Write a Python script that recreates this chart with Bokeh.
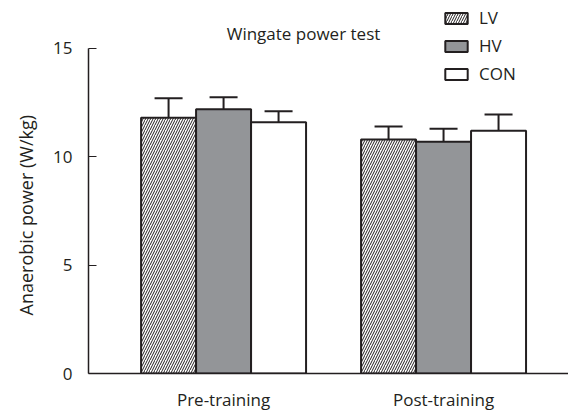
from bokeh.plotting import figure
from bokeh.models import Range1d, FixedTicker, Whisker, TeeHead, ColumnDataSource, Legend, LegendItem, Label, Title
from bokeh.embed import file_html
from bokeh.resources import INLINE

# ---- data ----
phases = ["Pre-training", "Post-training"]
groups = ["LV", "HV", "CON"]
lv_mean = [11.8, 10.8]
hv_mean = [12.2, 10.7]
con_mean = [11.6, 11.2]
lv_sd = [0.9, 0.6]
hv_sd = [0.55, 0.6]
con_sd = [0.5, 0.75]
y_ticks = [0, 5, 10, 15]

FONT = "Open Sans"
INK = "#231f20"

p = figure(width=568, height=413, output_backend="svg", toolbar_location=None,
           x_range=Range1d(0.386, 2.568), y_range=Range1d(0, 17.215),
           min_border_left=88, min_border_right=0, min_border_top=0, min_border_bottom=40)
p.outline_line_color = None
p.xgrid.visible = False
p.ygrid.visible = False
p.background_fill_color = "white"
p.border_fill_color = "white"

width = 0.25
offsets = [-width, 0.0, width]
series = [
    (lv_mean, lv_sd, dict(fill_color="white", hatch_pattern="/", hatch_color=INK, hatch_scale=5, hatch_weight=1)),
    (hv_mean, hv_sd, dict(fill_color="#939598")),
    (con_mean, con_sd, dict(fill_color="white")),
]
renderers = []
for (means, sds, style), off in zip(series, offsets):
    xs = [i + 1 + off for i in range(len(phases))]
    src = ColumnDataSource(dict(x=xs, top=means, up=[m + s for m, s in zip(means, sds)]))
    w = Whisker(base="x", lower="top", upper="up", source=src, dimension="height",
                line_color=INK, line_width=2, lower_head=None,
                upper_head=TeeHead(size=28, line_color=INK, line_width=2))
    p.add_layout(w)
    r = p.vbar(x="x", top="top", bottom=0, width=width, source=src,
               line_color=INK, line_width=2, **style)
    renderers.append(r)

# axes
p.xaxis.ticker = FixedTicker(ticks=[1, 2])
p.xaxis.major_label_overrides = {1: phases[0], 2: phases[1]}
p.xaxis.major_tick_line_color = None
p.xaxis.minor_tick_line_color = None
p.xaxis.axis_line_color = INK
p.xaxis.axis_line_width = 1.5
p.xaxis.major_label_text_font = FONT
p.xaxis.major_label_text_font_size = "17px"
p.xaxis.major_label_text_color = INK
p.xaxis.major_label_standoff = 8

p.yaxis.ticker = FixedTicker(ticks=y_ticks)
p.yaxis.bounds = (0, 15)
p.yaxis.major_tick_in = 8
p.yaxis.major_tick_out = 0
p.yaxis.minor_tick_line_color = None
p.yaxis.axis_line_color = INK
p.yaxis.axis_line_width = 1.5
p.yaxis.major_tick_line_color = INK
p.yaxis.major_tick_line_width = 1
p.yaxis.major_label_text_font = FONT
p.yaxis.major_label_text_font_size = "17px"
p.yaxis.major_label_text_color = INK
p.yaxis.major_label_standoff = 16

# y-axis title as a left-side Title so it can be shifted along the axis
p.add_layout(Title(text="Anaerobic power (W/kg)", align="left", offset=58,
                   vertical_align="top", standoff=22,
                   text_font=FONT, text_font_size="18px", text_font_style="normal",
                   text_color=INK), "left")

# title
p.add_layout(Label(x=215, y=340, x_units="screen", y_units="screen", text="Wingate power test",
                   text_font=FONT, text_font_size="17px", text_color=INK,
                   text_align="center", text_baseline="middle"))

legend = Legend(items=[LegendItem(label=g, renderers=[r]) for g, r in zip(groups, renderers)],
                location=(354, 288), orientation="vertical",
                glyph_width=28, glyph_height=14, label_standoff=9, spacing=5,
                padding=0, margin=0, label_height=14,
                label_text_font=FONT, label_text_font_size="17px", label_text_color=INK,
                background_fill_alpha=0, border_line_alpha=0)
p.add_layout(legend)

open("out.html", "w").write(file_html(p, INLINE))
